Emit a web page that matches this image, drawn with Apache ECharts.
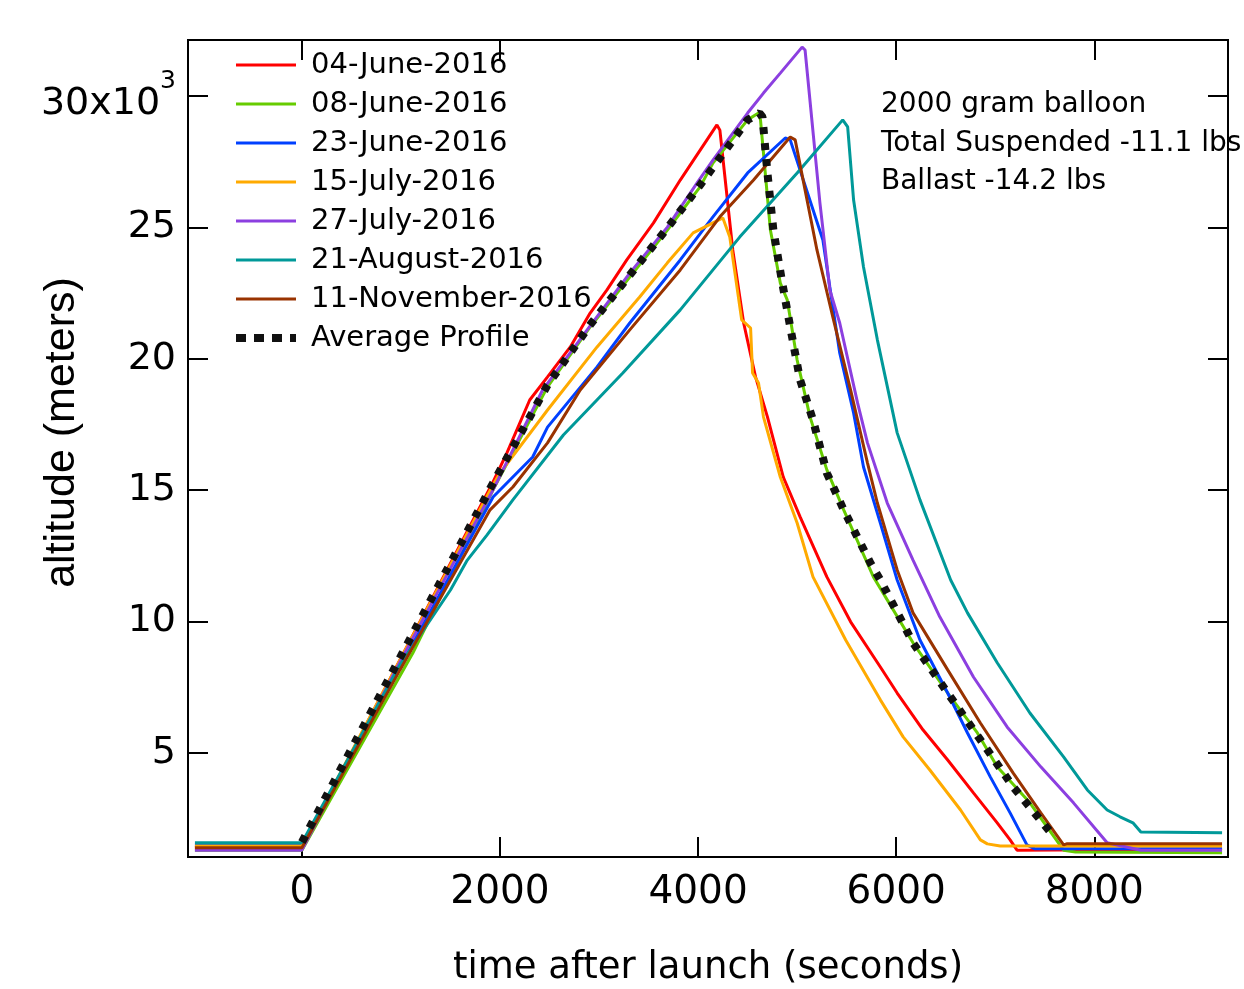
<!DOCTYPE html>
<html>
<head>
<meta charset="utf-8">
<script src="https://cdn.jsdelivr.net/npm/echarts@6/dist/echarts.min.js"></script>
<style>
  body { margin: 0; background: #fff; }
  #chart { width: 1244px; height: 989px; }
</style>
</head>
<body>
<div id="chart"></div>
<script>
"use strict";

// [seconds after launch, altitude m]
var june04 = [[-1080,1400],[0,1385],[990,8540],[1930,15310],[2070,16420],[2300,18430],[2480,19310],[2710,20450],[2910,21740],[3080,22620],[3280,23760],[3550,25170],[3820,26800],[4190,28900],[4220,28700],[4350,24140],[4460,21360],[4580,19310],[4700,17790],[4860,15500],[5030,13980],[5300,11700],[5540,9990],[5840,8270],[6010,7280],[6270,5880],[6520,4730],[6780,3480],[7020,2340],[7150,1690],[7220,1300],[9290,1340]];
var june08 = [[-1080,1300],[0,1300],[1120,8800],[1930,15010],[2480,18930],[2910,21210],[3310,23110],[3690,24900],[4020,26540],[4150,27450],[4500,29090],[4610,29350],[4630,29090],[4730,24900],[4830,22880],[4900,22240],[5000,19950],[5130,17790],[5300,15770],[5470,14250],[5770,11700],[6170,9190],[6520,7280],[6820,5760],[7020,4470],[7350,3100],[7690,1300],[7810,1230],[9290,1200]];
var june23 = [[-1080,1500],[0,1500],[990,8270],[1930,14740],[2330,16260],[2480,17400],[2980,19690],[3310,21360],[3820,23760],[4150,25400],[4500,27070],[4880,28400],[4930,28330],[5260,24520],[5330,22730],[5430,20220],[5570,17940],[5670,15880],[5840,13750],[6010,11580],[6240,9300],[6520,7280],[6720,5760],[6950,4090],[7150,2720],[7320,1500],[7400,1350],[9290,1350]];
var july15 = [[-1080,1460],[0,1460],[990,8540],[1930,15200],[2000,15650],[2480,18050],[2980,20450],[3410,22350],[3690,23650],[3950,24790],[4250,25360],[4320,24630],[4440,21480],[4530,21170],[4550,19460],[4610,19080],[4660,17790],[4830,15500],[5000,13750],[5160,11700],[5490,9300],[5840,7020],[6070,5610],[6340,4350],[6650,2830],[6850,1690],[6920,1540],[7050,1460],[9290,1460]];
var july27 = [[-1080,1300],[0,1300],[990,8460],[1930,15010],[2430,18810],[2880,21100],[3310,23260],[3690,25010],[3990,26690],[4150,27560],[4500,29350],[4660,30110],[4830,30870],[5050,31860],[5080,31750],[5230,25930],[5330,22620],[5430,21360],[5610,18320],[5710,16800],[5910,14510],[6170,12340],[6440,10180],[6780,7890],[7120,5990],[7460,4470],[7790,3100],[8130,1580],[8470,1300],[9290,1300]];
var aug21 = [[-1080,1580],[0,1580],[990,8350],[1500,11200],[1670,12340],[1870,13300],[2130,14630],[2640,17100],[3240,19460],[3820,21860],[4420,24630],[5000,27070],[5460,29090],[5510,28820],[5570,26040],[5670,23490],[5810,20720],[6010,17180],[6240,14630],[6550,11580],[6720,10330],[7020,8430],[7350,6520],[7690,4850],[7930,3590],[8130,2830],[8260,2570],[8390,2340],[8470,1990],[9290,1960]];
var nov11 = [[-1080,1390],[0,1390],[990,8160],[1900,14250],[2130,15120],[2480,16800],[2810,18810],[3310,21100],[3820,23380],[4220,25400],[4560,26800],[4930,28440],[4980,28330],[5200,24140],[5360,21590],[5540,18810],[5710,16040],[5810,14510],[6010,11960],[6170,10330],[6520,8160],[6850,6140],[7180,4240],[7460,2720],[7690,1500],[7720,1540],[9290,1540]];
var average = [[0,1610],[990,8620],[1930,15270],[2480,19000],[2910,21290],[3310,23190],[3690,24980],[4020,26610],[4500,29090],[4620,29350],[4650,29200],[4700,27070],[4760,24900],[4850,22880],[4930,21210],[5030,19190],[5160,17670],[5300,15650],[5470,14250],[5740,12230],[5840,11580],[6170,9190],[6520,7280],[6850,5500],[7180,3710],[7580,1880]];

var names = ['04-June-2016','08-June-2016','23-June-2016','15-July-2016','27-July-2016','21-August-2016','11-November-2016','Average Profile'];
var colors = ['#ff0000','#66cc00','#0040ff','#ffaa00','#8c3fe0','#009999','#993300','#111111'];
var xTicks = [0, 2000, 4000, 6000, 8000];
var yTicks = [5000, 10000, 15000, 20000, 25000, 30000];
var notes = ['2000 gram balloon', 'Total Suspended -11.1 lbs', 'Ballast -14.2 lbs'];

var font = 'DejaVu Sans';
var allData = [june04, june08, june23, july15, july27, aug21, nov11, average];

var series = allData.map(function (d, i) {
  var avg = i === 7;
  return {
    name: names[i],
    type: 'line',
    data: d,
    symbol: 'none',
    color: colors[i],
    lineStyle: avg ? {width: 8, type: [7, 9], color: colors[i], cap: 'butt'} : {width: 3, color: colors[i]},
    z: avg ? 5 : 2
  };
});

function tickAxis(pos, isX, showLabel) {
  return {
    type: 'value',
    position: pos,
    min: isX ? -1150 : 1040,
    max: isX ? 9350 : 32130,
    splitLine: {show: false},
    axisLine: {show: false, onZero: false},
    axisTick: {show: true, inside: true, length: 20, customValues: isX ? xTicks : yTicks, lineStyle: {color: '#000', width: 2}},
    axisLabel: {show: showLabel, customValues: isX ? xTicks : yTicks, color: '#000', fontFamily: font}
  };
}

var xBottom = tickAxis('bottom', true, true);
xBottom.axisLabel.fontSize = 39;
xBottom.axisLabel.margin = 16;
xBottom.axisLabel.formatter = function (v) { return String(v); };
xBottom.name = 'time after launch (seconds)';
xBottom.nameLocation = 'middle';
xBottom.nameGap = 93;
xBottom.nameMoveOverlap = false;
xBottom.nameTextStyle = {fontSize: 37, color: '#000', fontFamily: font};

var yLeft = tickAxis('left', false, true);
yLeft.axisLabel.margin = 12;
yLeft.axisLabel.formatter = function (v) {
  if (v === 30000) return '{n|30x10}{s|3}';
  return '{m|' + (v / 1000) + '}';
};
yLeft.axisLabel.rich = {
  m: {fontSize: 38, fontFamily: font, color: '#000'},
  n: {fontSize: 38, fontFamily: font, color: '#000', padding: [16, 0, 0, 0]},
  s: {fontSize: 25, fontFamily: font, color: '#000', verticalAlign: 'top'}
};
yLeft.name = 'altitude (meters)';
yLeft.nameLocation = 'middle';
yLeft.nameGap = 104;
yLeft.nameMoveOverlap = false;
yLeft.nameTextStyle = {fontSize: 43, color: '#000', fontFamily: 'Liberation Sans', padding: [0, 0, 0, 32]};

var chart = echarts.init(document.getElementById('chart'));
chart.setOption({
  animation: false,
  backgroundColor: '#ffffff',
  grid: {left: 188, right: 16, top: 40, bottom: 132, outerBoundsMode: 'none', containLabel: false,
    show: true, borderColor: '#000', borderWidth: 2, backgroundColor: 'transparent'},
  xAxis: [xBottom, tickAxis('top', true, false)],
  yAxis: [yLeft, tickAxis('right', false, false)],
  legend: {
    orient: 'vertical',
    left: 227,
    top: 45,
    itemWidth: 60,
    itemHeight: 14,
    itemGap: 9,
    itemStyle: {opacity: 0},
    textStyle: {fontSize: 29, fontFamily: font, color: '#000', lineHeight: 30, padding: [0, 0, 0, 10]},
    data: names.map(function (n, i) {
      return i === 7
        ? {name: n, lineStyle: {width: 8, type: [10, 8], cap: 'butt', opacity: 1}}
        : {name: n, lineStyle: {width: 3, opacity: 1}};
    })
  },
  graphic: notes.map(function (t, i) {
    return {
      type: 'text', x: 881, y: 105 + i * 38.5, z: 10,
      style: {text: t, fontSize: 28, fontFamily: font, fill: '#000', verticalAlign: 'middle'}
    };
  }),
  series: series
});
</script>
</body>
</html>
